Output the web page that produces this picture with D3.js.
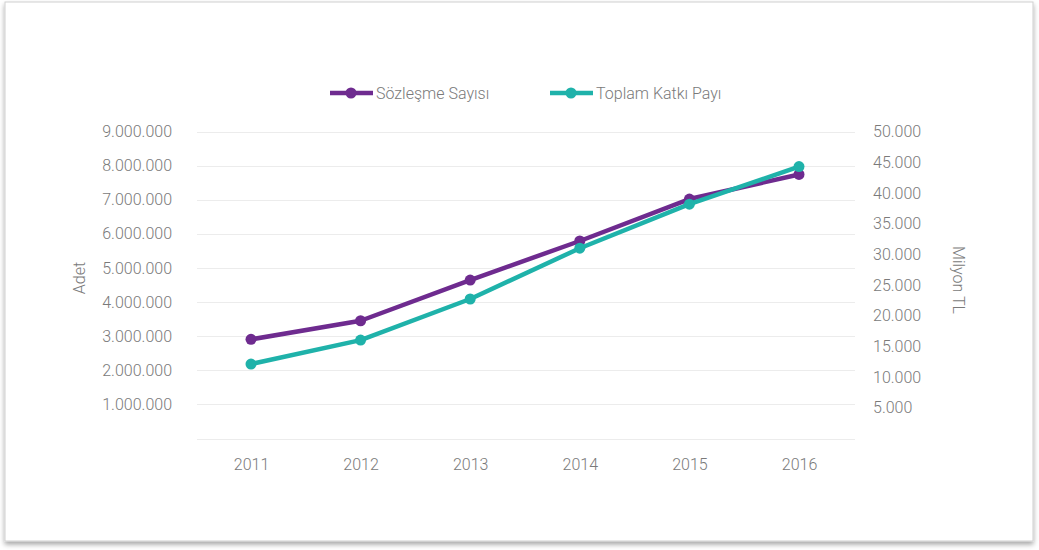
<!DOCTYPE html>
<html>
<head>
<meta charset="utf-8">
<script src="https://d3js.org/d3.v7.min.js"></script>
<style>
  body { margin: 0; background: #fff; }
  text { font-family: Roboto, "Liberation Sans", sans-serif; font-weight: 300; fill: #7a7a7a; }
</style>
</head>
<body>
<div id="chart"></div>
<script>
// data
var years = ["2011", "2012", "2013", "2014", "2015", "2016"];
var sozlesme = [2906000, 3452000, 4646000, 5790000, 7020000, 7740000];   // Adet
var katki = [12120, 16030, 22720, 30990, 38160, 44290];                   // Milyon TL
var leftTicks = [0, 1000000, 2000000, 3000000, 4000000, 5000000, 6000000, 7000000, 8000000, 9000000];
var rightTicks = [5000, 10000, 15000, 20000, 25000, 30000, 35000, 40000, 45000, 50000];

var svgWidth = 1039;
var svgHeight = 550;

var purple = "#6e2b8f";
var teal = "#1fb2aa";

var trFormat = d3.formatLocale({ decimal: ",", thousands: ".", grouping: [3], currency: ["", ""] }).format(",");

var svg = d3.select("#chart")
    .append("svg")
    .attr("width", svgWidth)
    .attr("height", svgHeight);

// frame with a soft shadow
var defs = svg.append("defs");
var shadow = defs.append("filter").attr("id", "shadow")
    .attr("x", "-5%").attr("y", "-5%").attr("width", "110%").attr("height", "115%");
shadow.append("feDropShadow")
    .attr("dx", 0).attr("dy", 3).attr("stdDeviation", 2.5)
    .attr("flood-color", "#000").attr("flood-opacity", 0.35);

svg.append("rect")
    .attr("x", 5).attr("y", 2)
    .attr("width", 1028).attr("height", 539)
    .attr("fill", "#fff")
    .attr("stroke", "#cfcfcf")
    .attr("filter", "url(#shadow)");

// scales
var x = d3.scalePoint()
    .domain(years)
    .range([251, 799]);

var yLeft = d3.scaleLinear()
    .domain([0, 9000000])
    .range([438.5, 131.5]);

var yRight = d3.scaleLinear()
    .domain([0, 50000])
    .range([438.5, 131.5]);

// grid lines
svg.append("g")
    .selectAll("line")
    .data(leftTicks)
    .enter()
    .append("line")
    .attr("x1", 197)
    .attr("x2", 855)
    .attr("y1", d => Math.round(yLeft(d)) + 0.5)
    .attr("y2", d => Math.round(yLeft(d)) + 0.5)
    .attr("stroke", "#ececec")
    .attr("stroke-width", 1);

// axes
var leftAxis = d3.axisLeft(yLeft)
    .tickValues(leftTicks.slice(1))
    .tickSize(0)
    .tickPadding(0)
    .tickFormat(trFormat);

var gLeft = svg.append("g")
    .attr("transform", "translate(172, 0)")
    .call(leftAxis);
gLeft.select(".domain").remove();
gLeft.selectAll("text").style("font-size", "16px").attr("fill", "#7a7a7a").style("font-family", null);

var rightAxis = d3.axisRight(yRight)
    .tickValues(rightTicks)
    .tickSize(0)
    .tickPadding(0)
    .tickFormat(trFormat);

var gRight = svg.append("g")
    .attr("transform", "translate(873, 0)")
    .call(rightAxis);
gRight.select(".domain").remove();
gRight.selectAll("text").style("font-size", "16px").attr("fill", "#7a7a7a").style("font-family", null);

var bottomAxis = d3.axisBottom(x)
    .tickSize(0)
    .tickPadding(0);

var gBottom = svg.append("g")
    .attr("transform", "translate(0, 459)")
    .call(bottomAxis);
gBottom.select(".domain").remove();
gBottom.selectAll("text").style("font-size", "16px").attr("fill", "#7a7a7a").style("font-family", null);

// axis titles
svg.append("text")
    .attr("transform", "translate(85, 278) rotate(-90)")
    .style("text-anchor", "middle")
    .style("font-size", "16px")
    .text("Adet");

svg.append("text")
    .attr("transform", "translate(953, 280) rotate(90)")
    .style("text-anchor", "middle")
    .style("font-size", "16px")
    .text("Milyon TL");

// lines
var series = [
    { name: "Sözleşme Sayısı", values: sozlesme, scale: yLeft, color: purple },
    { name: "Toplam Katkı Payı", values: katki, scale: yRight, color: teal }
];

series.forEach(function (s) {
    var line = d3.line()
        .x((d, i) => x(years[i]))
        .y(d => s.scale(d));

    svg.append("path")
        .datum(s.values)
        .attr("d", line)
        .attr("fill", "none")
        .attr("stroke", s.color)
        .attr("stroke-width", 4.5)
        .attr("stroke-linejoin", "round");

    svg.append("g")
        .selectAll("circle")
        .data(s.values)
        .enter()
        .append("circle")
        .attr("cx", (d, i) => x(years[i]))
        .attr("cy", d => s.scale(d))
        .attr("r", 5.5)
        .attr("fill", s.color);
});

// legend
var legendX = [330, 550];
series.forEach(function (s, i) {
    var g = svg.append("g").attr("transform", `translate(${legendX[i]}, 93)`);
    g.append("line")
        .attr("x1", 0).attr("x2", 43)
        .attr("stroke", s.color)
        .attr("stroke-width", 4.5);
    g.append("circle")
        .attr("cx", 21).attr("r", 5.5)
        .attr("fill", s.color);
    g.append("text")
        .attr("x", 46)
        .attr("dy", "0.35em")
        .style("font-size", "16px")
        .text(s.name);
});
</script>
</body>
</html>
